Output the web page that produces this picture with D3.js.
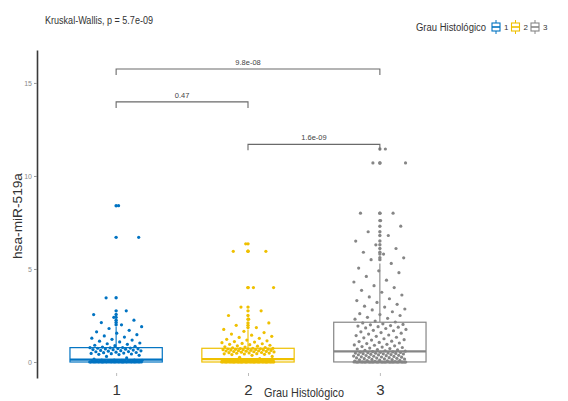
<!DOCTYPE html>
<html>
<head>
<meta charset="utf-8">
<script src="https://cdn.jsdelivr.net/npm/d3@7"></script>
<style>
  html, body { margin: 0; padding: 0; background: #fff; }
  svg { display: block; font-family: "Liberation Sans", Arial, sans-serif; }
</style>
</head>
<body>
<svg id="chart" width="568" height="401"></svg>
<script>
// Histological grade groups
const categories = ["1", "2", "3"];
const groupColors = ["#0073C2", "#EFC000", "#868686"];

// hsa-miR-519a expression per grade
const grade1 = [
  0,0,0,0,0,0,0,0,0,0,0,0,0,0,0,0,0,0,0,0,0,0,0,0,0,0,0,0,0,0,0,0,0,0,
  0.01,0.01,0.01,0.02,0.02,0.02,0.03,0.03,0.03,0.04,0.04,0.05,0.05,0.05,0.06,
  0.06,0.07,0.07,0.08,0.08,0.08,0.09,0.09,0.1,0.1,0.1,0.15,0.22,0.3,0.36,
  0.4,0.41,0.43,0.45,0.46,0.48,0.5,0.51,0.53,0.55,0.56,0.58,0.6,0.61,0.62,
  0.64,0.66,0.67,0.69,0.7,0.71,0.72,0.74,0.75,0.76,0.77,0.78,
  0.8,0.84,0.88,0.9,0.95,0.98,1.02,1.08,1.12,1.18,1.22,1.28,1.34,1.4,1.47,
  1.55,1.62,1.7,1.8,1.9,2.0,2.12,2.25,2.4,2.55,2.75,3.45,6.7,8.4
];
const grade2 = [
  0,0,0,0,0,0,0,0,0,0,0,0,0,0,0,0,0,0,0,0,0,0,0,0,0,0,0,0,0,0,0,0,0,0,0,0,0,0,0,0,
  0.01,0.01,0.01,0.02,0.02,0.02,0.02,0.03,0.03,0.03,0.04,0.04,0.04,0.05,0.05,
  0.05,0.05,0.06,0.06,0.06,0.07,0.07,0.07,0.08,0.08,0.08,0.08,0.09,0.09,0.09,
  0.1,0.1,0.1,0.1,0.12,0.18,
  0.25,0.3,0.36,0.4,0.41,0.43,0.44,0.45,0.47,0.48,0.49,0.5,0.51,0.53,0.54,
  0.55,0.56,0.57,0.58,0.59,0.6,0.61,0.62,0.63,0.64,0.65,0.66,0.66,0.67,0.68,
  0.69,0.7,0.7,0.71,0.72,0.73,0.74,
  0.76,0.78,0.8,0.82,0.85,0.87,0.9,0.93,0.95,0.98,1.0,1.04,1.07,1.1,1.14,
  1.18,1.22,1.27,1.32,1.38,1.44,1.5,1.58,1.65,1.75,1.85,1.97,2.1,2.3,2.5,
  2.75,2.95,4.0,4.0,5.95,5.95,6.35
];
const grade3 = [
  0,0,0,0,0,0,0,0,0,0,0,0,0,0,0,0,0,0,0,0,0,0,0,0,0,0,0,0,0,0,0,0,0,0,0,0,
  0,0,0,0,0,0,0,0,0,0,
  0.01,0.02,0.04,0.05,0.06,0.08,0.09,0.1,0.12,0.13,0.14,0.16,0.17,0.18,0.2,
  0.21,0.22,0.23,0.25,0.26,0.27,0.28,0.3,0.31,0.32,0.34,0.35,0.36,0.38,0.39,
  0.4,0.41,0.43,0.44,0.45,0.46,0.47,0.48,0.49,0.5,0.51,0.52,0.53,0.54,
  0.56,0.58,0.6,0.63,0.65,0.67,0.7,0.72,0.75,0.78,0.8,0.83,0.87,0.9,0.92,
  0.95,0.99,1.02,1.05,1.1,1.12,1.18,1.2,1.25,1.3,1.33,1.38,1.42,1.45,1.5,
  1.55,1.58,1.62,1.68,1.7,1.75,1.8,1.83,1.87,1.9,1.93,1.96,2.0,2.02,2.05,
  2.1,2.15,2.2,2.3,2.35,2.4,2.5,2.55,2.6,2.7,2.8,2.85,2.95,3.0,3.1,3.2,3.3,
  3.4,3.5,3.6,3.75,3.85,4.0,4.1,4.3,4.4,4.6,4.8,4.9,5.05,5.3,5.5,5.6,5.8,
  5.9,6.1,6.3,6.5,6.8,7.0,7.3,7.6,8.0,8.0,10.7,10.7,11.45
];
const groupValues = [grade1, grade2, grade3];

const yTicks = [0, 5, 10, 15];

// Pairwise comparisons (Wilcoxon) and the global test
const pairA = ["1", "2", "1"];
const pairB = ["2", "3", "3"];
const pairLabels = ["0.47", "1.6e-09", "9.8e-08"];
const pairLevels = [13.98, 11.7, 15.75];
const globalTest = "Kruskal-Wallis, p = 5.7e-09";

const svg = d3.select("#chart");

const x = d3.scalePoint().domain(categories).range([37, 459]).padding(0.6);
const y = d3.scaleLinear().domain([-0.86, 16.77]).range([378, 50]);
const step = x.step();
const boxW = step * 0.7;
const jitterW = step * 0.2;

// y axis
const yAxis = svg.append("g").attr("transform", "translate(37,0)")
  .call(d3.axisLeft(y).tickValues(yTicks).tickSize(3).tickSizeOuter(0).tickPadding(2));
yAxis.select(".domain").attr("stroke", "#3a3a3a").attr("stroke-width", 1.6);
yAxis.selectAll(".tick line").attr("stroke", "#999");
yAxis.selectAll(".tick text").attr("fill", "#8a8a8a").style("font-size", "7px")
  .style("font-family", "Liberation Sans, Arial, sans-serif");

// x axis: ticks and labels only
const xAxis = svg.append("g").attr("transform", "translate(0,373)")
  .call(d3.axisBottom(x).tickSize(3).tickPadding(8));
xAxis.select(".domain").remove();
xAxis.selectAll(".tick line").attr("stroke", "#bbb");
xAxis.selectAll(".tick text").attr("fill", "#333").style("font-size", "15px")
  .style("font-family", "Liberation Sans, Arial, sans-serif");

// axis titles
svg.append("text").attr("x", 264).attr("y", 397)
  .attr("textLength", 80).attr("lengthAdjust", "spacingAndGlyphs")
  .style("font-size", "13px").attr("fill", "#333").text("Grau Histológico");
svg.append("text").attr("transform", "translate(22,216) rotate(-90)")
  .attr("text-anchor", "middle")
  .attr("textLength", 86).attr("lengthAdjust", "spacingAndGlyphs")
  .style("font-size", "12px").attr("fill", "#333").text("hsa-miR-519a");

// global test label
svg.append("text").attr("x", 45).attr("y", 24)
  .attr("textLength", 108).attr("lengthAdjust", "spacingAndGlyphs")
  .style("font-size", "10.5px").attr("fill", "#333").text(globalTest);

function boxStats(vals) {
  const s = vals.slice().sort(d3.ascending);
  const q1 = d3.quantile(s, 0.25), med = d3.quantile(s, 0.5), q3 = d3.quantile(s, 0.75);
  const iqr = q3 - q1;
  const hi = d3.max(s.filter(v => v <= q3 + 1.5 * iqr));
  const lo = d3.min(s.filter(v => v >= q1 - 1.5 * iqr));
  const out = s.filter(v => v > q3 + 1.5 * iqr || v < q1 - 1.5 * iqr);
  return { q1, med, q3, hi, lo, out };
}

const frac = v => v - Math.floor(v);

categories.forEach((cat, gi) => {
  const vals = groupValues[gi];
  const col = groupColors[gi];
  const cx = x(cat);
  const st = boxStats(vals);
  const g = svg.append("g");

  // whiskers
  g.append("line").attr("x1", cx).attr("x2", cx)
    .attr("y1", y(st.q3)).attr("y2", y(st.hi)).attr("stroke", col).attr("stroke-width", 1.1);
  g.append("line").attr("x1", cx).attr("x2", cx)
    .attr("y1", y(st.q1)).attr("y2", y(st.lo)).attr("stroke", col).attr("stroke-width", 1.1);
  // box
  g.append("rect").attr("x", cx - boxW / 2).attr("width", boxW)
    .attr("y", y(st.q3)).attr("height", Math.max(0.5, y(st.q1) - y(st.q3)))
    .attr("fill", "#fff").attr("stroke", col).attr("stroke-width", 1.2);
  g.append("line").attr("x1", cx - boxW / 2).attr("x2", cx + boxW / 2)
    .attr("y1", y(st.med)).attr("y2", y(st.med)).attr("stroke", col).attr("stroke-width", 2.2);
  // outliers at the box centre
  g.selectAll("circle.out").data(st.out).join("circle").attr("class", "out")
    .attr("cx", cx).attr("cy", d => y(d)).attr("r", 1.7).attr("fill", col);
  // jittered observations
  g.selectAll("circle.pt").data(vals).join("circle").attr("class", "pt")
    .attr("cx", (d, i) => cx + (frac(i * 0.618034 + gi * 0.37) - 0.5) * 2 * jitterW)
    .attr("cy", d => y(d)).attr("r", 1.6).attr("fill", col);
});

// comparison brackets
const tip = 6;
pairLabels.forEach((lab, i) => {
  const x1 = x(pairA[i]), x2 = x(pairB[i]), yy = y(pairLevels[i]);
  svg.append("path")
    .attr("d", `M${x1},${yy + tip}V${yy}H${x2}V${yy + tip}`)
    .attr("fill", "none").attr("stroke", "#6a6a6a").attr("stroke-width", 1.1);
  svg.append("text").attr("x", (x1 + x2) / 2).attr("y", yy - 4)
    .attr("text-anchor", "middle").style("font-size", "7.5px").attr("fill", "#444").text(lab);
});

// legend
const lg = svg.append("g");
lg.append("text").attr("x", 416).attr("y", 31)
  .attr("textLength", 70).attr("lengthAdjust", "spacingAndGlyphs")
  .style("font-size", "10px").attr("fill", "#333").text("Grau Histológico");
categories.forEach((cat, i) => {
  const kx = 492 + i * 19.5, ky = 27;
  lg.append("line").attr("x1", kx + 4).attr("x2", kx + 4).attr("y1", ky - 7).attr("y2", ky + 7)
    .attr("stroke", groupColors[i]).attr("stroke-width", 1);
  lg.append("rect").attr("x", kx).attr("y", ky - 4).attr("width", 8).attr("height", 8)
    .attr("fill", "#fff").attr("stroke", groupColors[i]).attr("stroke-width", 1.1);
  lg.append("line").attr("x1", kx).attr("x2", kx + 8).attr("y1", ky).attr("y2", ky)
    .attr("stroke", groupColors[i]).attr("stroke-width", 1.6);
  lg.append("text").attr("x", kx + 12).attr("y", ky + 3)
    .style("font-size", "8px").attr("fill", "#333").text(cat);
});
</script>
</body>
</html>
